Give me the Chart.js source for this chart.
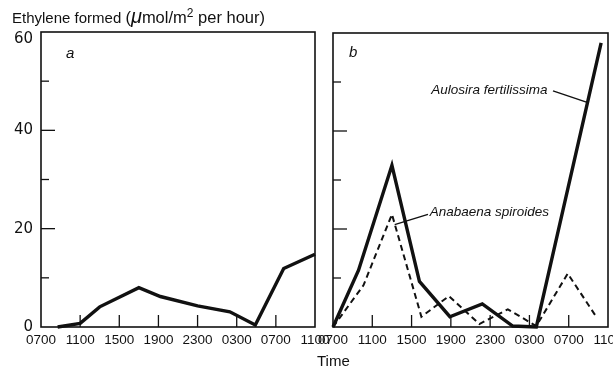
<!DOCTYPE html>
<html>
<head>
<meta charset="UTF-8">
<title>Ethylene formed</title>
<script src="https://cdn.jsdelivr.net/npm/chart.js"></script>
<style>
  body { margin: 0; background: #fff; }
  #wrap { position: relative; width: 613px; height: 369px; font-family: "Liberation Sans", Arial, sans-serif; color: #111; }
  #wrap canvas { position: absolute; left: 0; top: 0; }
  .txt { position: absolute; white-space: nowrap; line-height: 1; }
</style>
</head>
<body>
<div id="wrap">
  <canvas id="chartA" width="613" height="369"></canvas>
  <canvas id="chartB" width="613" height="369"></canvas>
  <div class="txt" style="left:12px; top:6px; font-size:15px;">Ethylene formed <span style="font-size:16.5px;">(<span style="font-size:20px; font-style:italic;">μ</span>mol/m<sup style="font-size:12px;">2</sup> per hour)</span></div>
  <div class="txt" style="left:66px; top:45px; font-size:15px; font-style:italic;">a</div>
  <div class="txt" style="left:349px; top:44px; font-size:15px; font-style:italic;">b</div>
  <div class="txt" style="left:317px; top:353px; font-size:15px;">Time</div>
</div>

<script>
    // hours after 0700 on day 1
    const xTickLabels = ['0700', '1100', '1500', '1900', '2300', '0300', '0700', '1100'];

    // panel a
    const hoursA = [1.7, 4, 6, 10, 12.2, 16, 19.3, 21.9, 24.8, 28];
    const valuesA = [0, 0.75, 4.1, 8.0, 6.2, 4.3, 3.1, 0.4, 11.9, 14.8];

    // panel b
    const speciesNames = ['Aulosira fertilissima', 'Anabaena spiroides'];
    const hoursAulosira = [0, 2.6, 6, 8.8, 11.9, 15.2, 18.3, 20.7, 27.3];
    const valuesAulosira = [0, 11.6, 33, 9.3, 2.1, 4.7, 0.2, 0, 58];
    const hoursAnabaena = [0, 3.1, 6, 9, 11.8, 14.9, 17.8, 20.7, 23.9, 26.8];
    const valuesAnabaena = [0, 8.5, 23, 2.1, 6.3, 0.6, 3.6, 0.2, 10.9, 2.1];

    const ink = '#111';

    function points(xs, ys) {
        return xs.map((h, i) => ({ x: h, y: ys[i] }));
    }

    // box round the plot and short ticks pointing inwards
    const frameTicks = {
        id: 'frameTicks',
        afterDraw(chart) {
            const { ctx, chartArea: a, scales: { x, y } } = chart;
            ctx.save();
            ctx.strokeStyle = ink;
            ctx.lineWidth = 1.6;
            ctx.strokeRect(a.left, a.top, a.right - a.left, a.bottom - a.top);
            ctx.lineWidth = 1.3;
            y.ticks.forEach(t => {
                if (t.value <= y.min || t.value >= y.max) return;
                const py = y.getPixelForValue(t.value);
                const len = t.value % 20 === 0 ? 14 : 8;
                ctx.beginPath();
                ctx.moveTo(a.left, py);
                ctx.lineTo(a.left + len, py);
                ctx.stroke();
            });
            x.ticks.forEach(t => {
                if (t.value <= x.min || t.value >= x.max) return;
                const px = x.getPixelForValue(t.value);
                ctx.beginPath();
                ctx.moveTo(px, a.bottom);
                ctx.lineTo(px, a.bottom - 12);
                ctx.stroke();
            });
            ctx.restore();
        }
    };

    // species names with leader lines
    const speciesLabels = {
        id: 'speciesLabels',
        afterDatasetsDraw(chart, args, opts) {
            if (!opts.items) return;
            const { ctx, scales: { x, y } } = chart;
            ctx.save();
            ctx.font = 'italic 13.5px "Liberation Sans", Arial, sans-serif';
            ctx.fillStyle = ink;
            ctx.strokeStyle = ink;
            ctx.lineWidth = 1.4;
            ctx.textBaseline = 'middle';
            ctx.textAlign = 'left';
            opts.items.forEach(it => {
                ctx.fillText(it.name, x.getPixelForValue(it.text[0]), y.getPixelForValue(it.text[1]));
                ctx.beginPath();
                ctx.moveTo(x.getPixelForValue(it.from[0]), y.getPixelForValue(it.from[1]));
                ctx.lineTo(x.getPixelForValue(it.to[0]), y.getPixelForValue(it.to[1]));
                ctx.stroke();
            });
            ctx.restore();
        }
    };

    function yLabel(v) {
        if (v % 20 !== 0) return '';
        // top label sits a little below the frame corner in the original
        return v === 60 ? ['', String(v)] : String(v);
    }

    function makeOptions(leftWidth, top, right, showY, items) {
        return {
            responsive: false,
            animation: false,
            devicePixelRatio: 1,
            layout: { padding: { top: top, right: right, left: 0, bottom: 0 } },
            plugins: {
                legend: { display: false },
                tooltip: { enabled: false },
                speciesLabels: { items: items }
            },
            scales: {
                x: {
                    type: 'linear',
                    min: 0,
                    max: 28,
                    grid: { display: false, drawTicks: false },
                    border: { display: false },
                    ticks: {
                        stepSize: 4,
                        autoSkip: false,
                        maxRotation: 0,
                        padding: 5,
                        color: ink,
                        font: { family: '"Liberation Sans", Arial, sans-serif', size: 13.5 },
                        callback: v => xTickLabels[Math.round(v / 4)]
                    },
                    afterFit: s => { s.height = 42; s.paddingLeft = 0; s.paddingRight = 0; }
                },
                y: {
                    min: 0,
                    max: 60,
                    grid: { display: false, drawTicks: false },
                    border: { display: false },
                    ticks: {
                        stepSize: 10,
                        padding: 8,
                        color: ink,
                        font: { family: '"DejaVu Sans", sans-serif', size: 15, lineHeight: 0.9 },
                        callback: v => showY ? yLabel(v) : ''
                    },
                    afterFit: s => { s.width = leftWidth; s.paddingTop = 0; s.paddingBottom = 0; }
                }
            }
        };
    }

    new Chart(document.getElementById('chartA'), {
        type: 'line',
        data: {
            datasets: [{
                data: points(hoursA, valuesA),
                borderColor: ink,
                borderWidth: 3.4,
                pointRadius: 0,
                tension: 0,
                clip: false
            }]
        },
        options: makeOptions(41, 32, 298, true, null),
        plugins: [frameTicks, speciesLabels]
    });

    new Chart(document.getElementById('chartB'), {
        type: 'line',
        data: {
            datasets: [{
                label: speciesNames[0],
                data: points(hoursAulosira, valuesAulosira),
                borderColor: ink,
                borderWidth: 3.4,
                pointRadius: 0,
                tension: 0,
                clip: false
            }, {
                label: speciesNames[1],
                data: points(hoursAnabaena, valuesAnabaena),
                borderColor: ink,
                borderWidth: 2,
                borderDash: [6, 4],
                pointRadius: 0,
                tension: 0,
                clip: false
            }]
        },
        options: makeOptions(333, 33, 5, false, [
            { name: speciesNames[0], text: [10.0, 48.4], from: [22.4, 48.2], to: [25.8, 45.9] },
            { name: speciesNames[1], text: [9.85, 23.5], from: [9.67, 23.0], to: [6.28, 20.9] }
        ]),
        plugins: [frameTicks, speciesLabels]
    });
</script>
</body>
</html>
